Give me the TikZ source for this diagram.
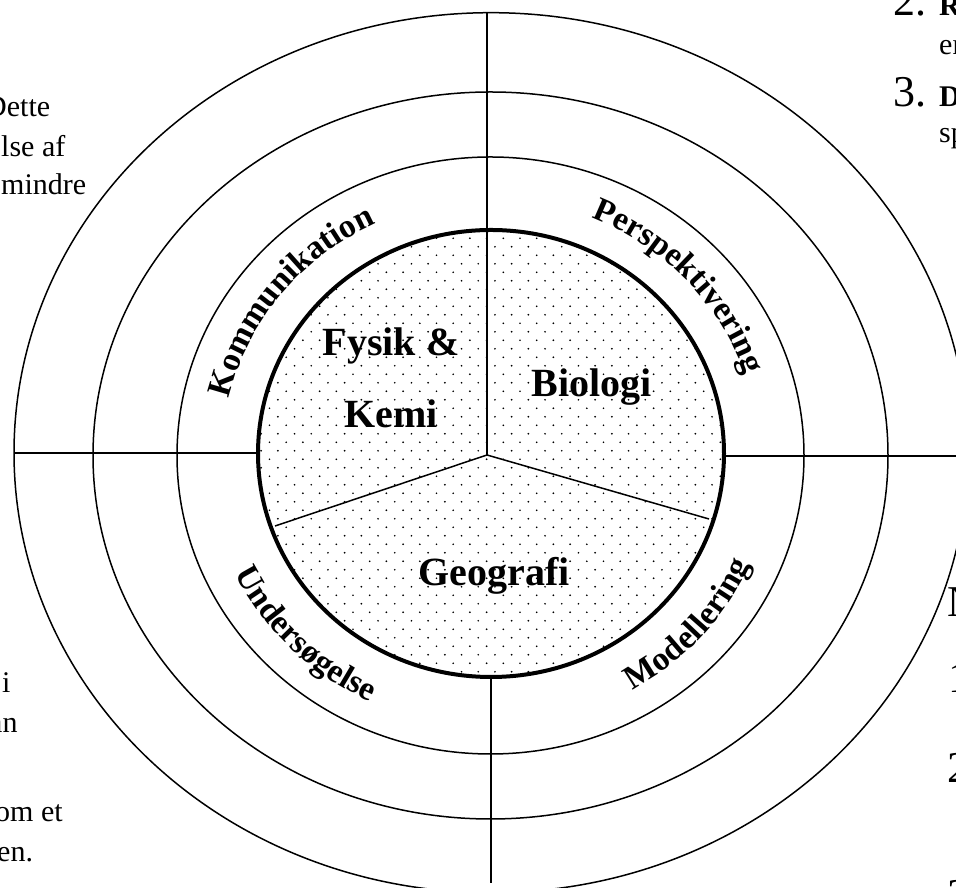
\documentclass[tikz,border=0pt]{standalone}
\usepackage{fontspec}
\setmainfont{Liberation Serif}
\usetikzlibrary{decorations.text}
\newcommand\ringfont{\bfseries\fontsize{33.5}{33.5}\selectfont}
\begin{document}
\begin{tikzpicture}[x=1pt,y=1pt,
  ring/.style={line width=1.5pt},
  hub/.style={line width=4pt},
  spoke/.style={line width=1.5pt},
  subject/.style={font=\bfseries\fontsize{40}{40}\selectfont, anchor=base, inner sep=0pt},
  body/.style={font=\fontsize{30}{30}\selectfont, anchor=base west, inner sep=0pt},
  bodyb/.style={font=\bfseries\fontsize{30}{30}\selectfont, anchor=base west, inner sep=0pt},
  big/.style={font=\fontsize{44}{44}\selectfont, anchor=base west, inner sep=0pt},
  ringlabel/.style={decorate, decoration={text along path, text align=center, text={|\ringfont|#1}}}
]
\useasboundingbox (0,0) rectangle (956,888);
\clip (0,0) rectangle (956,888);
\fill[white] (0,0) rectangle (956,888);

% outer rings
\draw[ring] (491,435.3) ellipse [x radius=477, y radius=440];
\draw[ring] (490.5,432.5) ellipse [x radius=397.5, y radius=363.5];
\draw[ring] (490.5,432.5) ellipse [x radius=313.5, y radius=298.5];

% dotted core
\begin{scope}
\clip (491,434.5) ellipse [x radius=233, y radius=223.5];
\foreach \j in {-3,...,55} {
  \foreach \i in {-16,...,14} {
    \fill ({503.3+16.7*\i+8.35*mod(\j+100,2)},{649.7-8.5*\j}) circle [radius=0.95];
  }
}
\end{scope}

% coordinates
\coordinate (hubc) at (487,433);
\coordinate (ntop) at (487,658);
\coordinate (nleft) at (275,362);
\coordinate (nright) at (709,369);
\coordinate (otop) at (487,875.3);
\coordinate (ibot) at (491,211);
\coordinate (obot) at (491,5);
\coordinate (oleft) at (14,435);
\coordinate (ileft) at (258,435);
\coordinate (iright) at (724,432);
\coordinate (oright) at (956,432);

% spokes
\draw[spoke] (hubc) -- (ntop);
\draw[spoke] (hubc) -- (nleft);
\draw[spoke] (hubc) -- (nright);
\draw[spoke] (otop) -- (ntop);
\draw[spoke] (ibot) -- (obot);
\draw[spoke] (oleft) -- (ileft);
\draw[spoke] (iright) -- (oright);

% thick core ring
\draw[hub] (491,434.5) ellipse [x radius=233, y radius=223.5];

% subjects
\node[subject] (fys) at (391,532) {Fysik \&};
\node[subject] (kem) at (391,460) {Kemi};
\node[subject] (bio) at (591.5,491) {Biologi};
\node[subject] (geo) at (494,302) {Geografi};

% ring labels
\begin{scope}[shift={(490.5,433)}]
\path[ringlabel=Kommunikation] (181.6:268 and 256) arc[start angle=181.6, end angle=101.6, x radius=268, y radius=256];
\path[ringlabel=Perspektivering] (82.7:268 and 256) arc[start angle=82.7, end angle=2.7, x radius=268, y radius=256];
\path[ringlabel=Undersøgelse] (185:284 and 272) arc[start angle=185, end angle=265, x radius=284, y radius=272];
\path[ringlabel=Modellering] (278.5:284 and 272) arc[start angle=278.5, end angle=358.5, x radius=284, y radius=272];
\end{scope}

% surrounding page text fragments
\node[body] (t1) at (-15,771) {Dette};
\node[body] (t2) at (1,731) {lse af};
\node[body] (t3) at (1,693) {mindre};
\node[body] (t4) at (2,195) {i};
\node[body] (t5) at (-11,155) {an};
\node[body] (t6) at (-5,66) {om et};
\node[body] (t7) at (-3,26) {en.};

\node[big] (n2) at (893,872) {2.};
\node[bodyb] (r2) at (939,872) {R};
\node[body] (e2) at (939,833) {er};
\node[big] (n3) at (893,781) {3.};
\node[bodyb] (d3) at (939,781) {D};
\node[body] (s3) at (939,745) {sp};

\node[big] (hN) at (947,271) {N};
\node[big] (l1) at (948,195) {1};
\node[big] (l2) at (947,105) {2};
\node[big] (l3) at (947,-22) {3};
\end{tikzpicture}
\end{document}
